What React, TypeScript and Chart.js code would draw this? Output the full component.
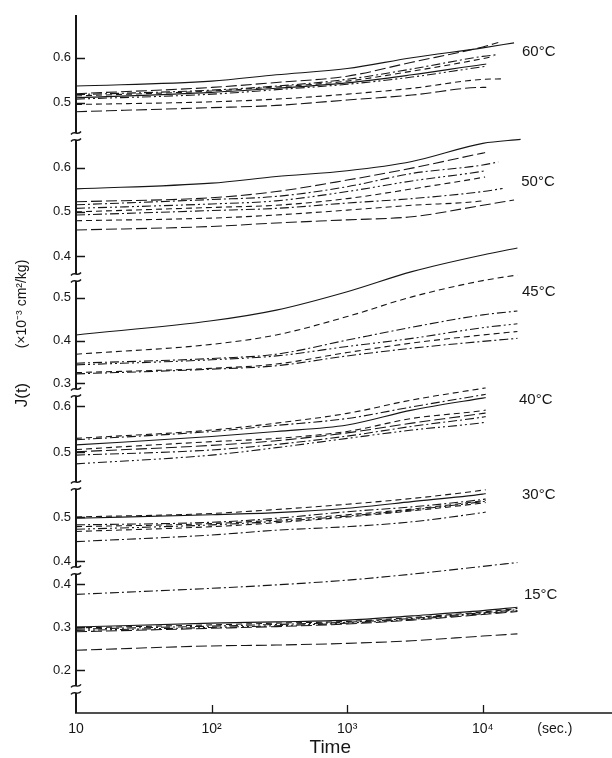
import React, { useEffect, useRef } from "react";
import { Chart, registerables } from "chart.js";

Chart.register(...registerables);

// ---- data ----
const TIMES = [10, 100, 300, 1000, 3000, 10000];
const X_TICKS = [10, 100, 1000, 10000, 34000];
const X_TICK_LABELS = ["10", "10²", "10³", "10⁴", "(sec.)"];

// 60 °C
const c60 = [
  [0.537, 0.548, 0.562, 0.576, 0.6, 0.622],
  [0.52, 0.534, 0.545, 0.559, 0.59, 0.624],
  [0.518, 0.528, 0.537, 0.552, 0.575, 0.603],
  [0.515, 0.526, 0.535, 0.548, 0.57, 0.598],
  [0.511, 0.523, 0.532, 0.544, 0.562, 0.585],
  [0.508, 0.519, 0.529, 0.541, 0.557, 0.58],
  [0.496, 0.502, 0.508, 0.519, 0.532, 0.552],
  [0.48, 0.489, 0.494, 0.506, 0.517, 0.534],
];
const end60T = [17000, 13000, 13000, 12000, 10600, 10600, 14000, 10600];
const end60V = [0.633, 0.634, 0.607, 0.603, 0.586, 0.581, 0.553, 0.534];
const ticks60 = [0.5, 0.6];

// 50 °C
const c50 = [
  [0.552, 0.565, 0.58, 0.593, 0.614, 0.655],
  [0.523, 0.532, 0.546, 0.572, 0.599, 0.633],
  [0.516, 0.528, 0.535, 0.557, 0.587, 0.606],
  [0.508, 0.518, 0.525, 0.546, 0.57, 0.592],
  [0.5, 0.51, 0.515, 0.53, 0.552, 0.578],
  [0.493, 0.503, 0.508, 0.52, 0.53, 0.546],
  [0.48, 0.486, 0.493, 0.504, 0.515, 0.525],
  [0.459, 0.467, 0.475, 0.482, 0.489, 0.515],
];
const end50T = [19000, 10400, 13000, 10400, 10400, 14000, 10400, 17000];
const end50V = [0.664, 0.634, 0.613, 0.593, 0.579, 0.553, 0.526, 0.527];
const ticks50 = [0.4, 0.5, 0.6];

// 45 °C
const c45 = [
  [0.413, 0.446, 0.471, 0.514, 0.561, 0.6],
  [0.368, 0.391, 0.413, 0.456, 0.502, 0.54],
  [0.347, 0.358, 0.368, 0.401, 0.431, 0.46],
  [0.343, 0.355, 0.364, 0.386, 0.405, 0.43],
  [0.325, 0.335, 0.345, 0.372, 0.394, 0.413],
  [0.322, 0.333, 0.341, 0.364, 0.382, 0.398],
];
const end45T = [18000, 18000, 18000, 18000, 18000, 18000];
const end45V = [0.616, 0.553, 0.469, 0.439, 0.421, 0.405];
const ticks45 = [0.3, 0.4, 0.5];

// 40 °C
const c40 = [
  [0.53, 0.548, 0.563, 0.584, 0.613, 0.638],
  [0.527, 0.545, 0.558, 0.573, 0.598, 0.624],
  [0.516, 0.534, 0.545, 0.559, 0.591, 0.617],
  [0.506, 0.523, 0.53, 0.545, 0.573, 0.59],
  [0.501, 0.515, 0.525, 0.542, 0.563, 0.584],
  [0.494, 0.505, 0.517, 0.535, 0.556, 0.576],
  [0.475, 0.494, 0.51, 0.53, 0.548, 0.564],
];
const end40T = [10500, 10500, 10500, 10500, 10500, 10500, 10500];
const end40V = [0.639, 0.625, 0.618, 0.591, 0.585, 0.577, 0.565];
const ticks40 = [0.5, 0.6];

// 30 °C
const c30 = [
  [0.5, 0.508, 0.517, 0.529, 0.542, 0.561],
  [0.497, 0.505, 0.51, 0.52, 0.535, 0.552],
  [0.482, 0.488, 0.497, 0.512, 0.523, 0.54],
  [0.478, 0.485, 0.493, 0.505, 0.518, 0.537],
  [0.472, 0.482, 0.49, 0.502, 0.516, 0.535],
  [0.467, 0.478, 0.487, 0.5, 0.514, 0.532],
  [0.444, 0.459, 0.47, 0.478, 0.489, 0.51],
];
const end30T = [10500, 10500, 10500, 10500, 10500, 10500, 10500];
const end30V = [0.562, 0.553, 0.541, 0.538, 0.536, 0.533, 0.511];
const ticks30 = [0.4, 0.5];

// 15 °C
const c15 = [
  [0.376, 0.39, 0.398, 0.409, 0.423, 0.441],
  [0.3, 0.309, 0.312, 0.316, 0.326, 0.338],
  [0.298, 0.305, 0.309, 0.313, 0.322, 0.335],
  [0.295, 0.302, 0.306, 0.311, 0.32, 0.333],
  [0.292, 0.299, 0.303, 0.309, 0.318, 0.331],
  [0.289, 0.297, 0.301, 0.307, 0.316, 0.329],
  [0.246, 0.256, 0.258, 0.262, 0.268, 0.279],
];
const end15T = [18000, 18000, 18000, 18000, 18000, 18000, 18000];
const end15V = [0.45, 0.346, 0.343, 0.34, 0.338, 0.336, 0.284];
const ticks15 = [0.2, 0.3, 0.4];
const BREAK_15 = 0.156;

// ---- styles ----
const INK = "#161616";
const FONT = "'Liberation Sans', Arial, sans-serif";
const DASH: Record<string, number[]> = {
  solid: [],
  long: [11, 4],
  dash: [6, 4],
  dashDot: [9, 3, 2, 3],
  dashDotDot: [9, 3, 2, 3, 2, 3],
};

const GROUPS = [
  { id: "y60", name: "60°C", curves: c60, endT: end60T, endV: end60V, ticks: ticks60, min: 0.426, max: 0.695, h: 121, labelX: 19450, labelY: 0.613,
    styles: ["solid", "long", "dashDot", "dash", "solid", "dashDotDot", "dash", "long"] },
  { id: "y50", name: "50°C", curves: c50, endT: end50T, endV: end50V, ticks: ticks50, min: 0.3527, max: 0.6717, h: 141, labelX: 19200, labelY: 0.568,
    styles: ["solid", "long", "dashDot", "dashDotDot", "dash", "dashDot", "dash", "long"] },
  { id: "y45", name: "45°C", curves: c45, endT: end45T, endV: end45V, ticks: ticks45, min: 0.2797, max: 0.5484, h: 115, labelX: 19450, labelY: 0.513,
    styles: ["solid", "dash", "dashDot", "dashDotDot", "dash", "dashDot"] },
  { id: "y40", name: "40°C", curves: c40, endT: end40T, endV: end40V, ticks: ticks40, min: 0.4294, max: 0.6302, h: 93, labelX: 18500, labelY: 0.613,
    styles: ["dash", "dashDot", "solid", "dash", "long", "dashDot", "dashDotDot"] },
  { id: "y30", name: "30°C", curves: c30, endT: end30T, endV: end30V, ticks: ticks30, min: 0.3795, max: 0.5727, h: 85, labelX: 19450, labelY: 0.55,
    styles: ["dash", "solid", "dashDot", "dash", "dashDotDot", "dash", "dashDot"] },
  { id: "y15", name: "15°C", curves: c15, endT: end15T, endV: end15V, ticks: ticks15, min: 0.1, max: 0.4326, h: 143, labelX: 20100, labelY: 0.374,
    styles: ["dashDot", "solid", "dash", "dashDot", "dashDotDot", "long", "long"] },
];

const decor = {
  id: "decor",
  afterDraw(chart: any) {
    const ctx = chart.ctx as CanvasRenderingContext2D;
    const area = chart.chartArea;
    const x0 = area.left;
    const xs = chart.scales.x;
    ctx.save();
    ctx.strokeStyle = INK;
    ctx.fillStyle = INK;

    // y axis with breaks
    const breaks: number[] = [];
    GROUPS.forEach((g, i) => {
      if (i > 0) breaks.push(chart.scales[g.id].top);
    });
    breaks.push(chart.scales.y15.getPixelForValue(BREAK_15));
    ctx.lineWidth = 2;
    ctx.beginPath();
    let ys = area.top;
    for (const b of breaks) {
      ctx.moveTo(x0, ys);
      ctx.lineTo(x0, b - 3);
      ys = b + 4;
    }
    ctx.moveTo(x0, ys);
    ctx.lineTo(x0, area.bottom);
    ctx.stroke();
    ctx.lineWidth = 1.4;
    for (const b of breaks) {
      for (const yy of [b - 3, b + 4]) {
        ctx.beginPath();
        ctx.moveTo(x0 - 5, yy + 1.5);
        ctx.bezierCurveTo(x0 - 2, yy - 3, x0 + 2, yy + 3, x0 + 5, yy - 1.5);
        ctx.stroke();
      }
    }

    // y tick marks
    ctx.lineWidth = 1.5;
    for (const g of GROUPS) {
      const sc = chart.scales[g.id];
      for (const v of g.ticks) {
        const y = Math.round(sc.getPixelForValue(v)) + 0.5;
        ctx.beginPath();
        ctx.moveTo(x0, y);
        ctx.lineTo(x0 + 9, y);
        ctx.stroke();
      }
    }

    // x axis
    ctx.lineWidth = 1.6;
    ctx.beginPath();
    ctx.moveTo(x0 - 1, area.bottom);
    ctx.lineTo(area.right, area.bottom);
    ctx.stroke();
    ctx.lineWidth = 1.3;
    for (const v of X_TICKS.slice(1, 4)) {
      const x = Math.round(xs.getPixelForValue(v)) + 0.5;
      ctx.beginPath();
      ctx.moveTo(x, area.bottom);
      ctx.lineTo(x, area.bottom - 8);
      ctx.stroke();
    }

    // group labels
    ctx.font = `15px ${FONT}`;
    ctx.textAlign = "left";
    ctx.textBaseline = "middle";
    for (const g of GROUPS) {
      const sc = chart.scales[g.id];
      ctx.fillText(g.name, xs.getPixelForValue(g.labelX), sc.getPixelForValue(g.labelY));
    }

    // x title
    ctx.font = `19px ${FONT}`;
    ctx.textAlign = "center";
    ctx.fillText("Time", xs.getPixelForValue(750), 748);

    // y title
    ctx.save();
    ctx.translate(22, 0);
    ctx.rotate(-Math.PI / 2);
    ctx.textAlign = "center";
    ctx.font = `17px ${FONT}`;
    ctx.fillText("J(t)", -395, 0);
    ctx.font = `14px ${FONT}`;
    ctx.fillText("(×10⁻³ cm²/kg)", -304, 0);
    ctx.restore();

    ctx.restore();
  },
};

export default function App() {
  const ref = useRef<HTMLCanvasElement | null>(null);

  useEffect(() => {
    if (!ref.current) return;
    const datasets: any[] = [];
    for (const g of GROUPS) {
      g.curves.forEach((vals, i) => {
        const pts = TIMES.map((t, k) => ({ x: t, y: vals[k] }));
        pts.push({ x: g.endT[i], y: g.endV[i] });
        datasets.push({
          data: pts,
          xAxisID: "x",
          yAxisID: g.id,
          borderColor: INK,
          borderWidth: 1.1,
          borderDash: DASH[g.styles[i]],
          pointRadius: 0,
          fill: false,
          clip: false,
          cubicInterpolationMode: "monotone",
        });
      });
    }

    const scales: any = {
      x: {
        type: "logarithmic",
        position: "bottom",
        min: 10,
        max: 89700,
        grid: { display: false, drawTicks: false, tickLength: 0 },
        border: { display: false },
        afterBuildTicks: (axis: any) => {
          axis.ticks = X_TICKS.map((v) => ({ value: v }));
        },
        afterFit: (axis: any) => {
          axis.height = 45;
        },
        ticks: {
          autoSkip: false,
          maxRotation: 0,
          padding: 8,
          color: INK,
          font: { family: FONT, size: 14 },
          callback: (_v: any, i: number) => X_TICK_LABELS[i],
        },
      },
    };
    GROUPS.forEach((g, gi) => {
      scales[g.id] = {
        type: "linear",
        position: "left",
        stack: "temps",
        stackWeight: g.h,
        weight: GROUPS.length - gi,
        min: g.min,
        max: g.max,
        grid: { display: false, drawTicks: false, tickLength: 0 },
        border: { display: false },
        afterBuildTicks: (axis: any) => {
          axis.ticks = g.ticks.map((v) => ({ value: v }));
        },
        afterFit: (axis: any) => {
          axis.width = 76;
        },
        ticks: {
          padding: 5,
          color: INK,
          font: { family: FONT, size: 13 },
          callback: (v: any) => Number(v).toFixed(1),
        },
      };
    });

    const chart = new Chart(ref.current, {
      type: "line",
      data: { datasets },
      options: {
        responsive: false,
        animation: false,
        devicePixelRatio: 1,
        layout: { padding: { top: 15, right: 0, bottom: 0, left: 0 } },
        plugins: { legend: { display: false }, tooltip: { enabled: false } },
        scales,
      },
      plugins: [decor],
    } as any);
    return () => chart.destroy();
  }, []);

  return (
    <div style={{ position: "fixed", left: 0, top: 0, width: 612, height: 758, background: "#fff" }}>
      <canvas ref={ref} width={612} height={758} style={{ width: 612, height: 758 }} />
    </div>
  );
}
